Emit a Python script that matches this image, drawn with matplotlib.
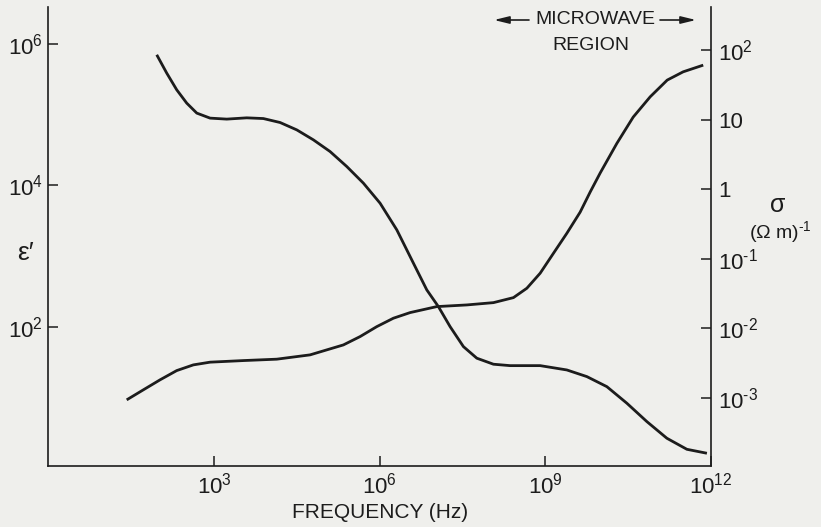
import matplotlib
matplotlib.use("Agg")
import matplotlib.pyplot as plt
import numpy as np

# ---- data (log10 values) ----
eps_logf = [1.962, 2.143, 2.324, 2.505, 2.687, 2.928, 3.230, 3.592, 3.893, 4.196,
            4.498, 4.799, 5.101, 5.404, 5.705, 6.007, 6.310, 6.611, 6.853, 7.063,
            7.275, 7.516, 7.759, 8.060, 8.362, 8.906, 9.389, 9.752, 10.114, 10.476,
            10.839, 11.201, 11.563, 11.926]
eps_logv = [5.845, 5.586, 5.350, 5.162, 5.021, 4.950, 4.936, 4.954, 4.944, 4.888,
            4.784, 4.643, 4.478, 4.266, 4.031, 3.748, 3.371, 2.900, 2.523, 2.287,
            2.004, 1.722, 1.558, 1.473, 1.453, 1.453, 1.392, 1.298, 1.156, 0.922,
            0.662, 0.427, 0.271, 0.215]

sig_logf = [1.418, 1.719, 2.022, 2.324, 2.625, 2.928, 3.531, 4.136, 4.739, 5.342,
            5.645, 5.947, 6.248, 6.551, 7.034, 7.578, 8.060, 8.422, 8.665, 8.906,
            9.147, 9.389, 9.630, 9.812, 9.993, 10.295, 10.591, 10.899, 11.207,
            11.496, 11.859]
sig_logv = [-3.029, -2.885, -2.741, -2.608, -2.526, -2.487, -2.464, -2.444, -2.382,
            -2.239, -2.119, -1.976, -1.855, -1.774, -1.688, -1.664, -1.631, -1.559,
            -1.424, -1.208, -0.921, -0.634, -0.330, -0.040, 0.233, 0.659, 1.037,
            1.329, 1.569, 1.688, 1.784]

x_ticks = [1e3, 1e6, 1e9, 1e12]
x_ticklabels = [r"$10^{3}$", r"$10^{6}$", r"$10^{9}$", r"$10^{12}$"]
eps_ticks = [1e2, 1e4, 1e6]
eps_ticklabels = [r"$10^{2}$", r"$10^{4}$", r"$10^{6}$"]
sig_ticks = [1e-3, 1e-2, 1e-1, 1, 10, 1e2]
sig_ticklabels = [r"$10^{\text{-}3}$", r"$10^{\text{-}2}$", r"$10^{\text{-}1}$",
                  "1", "10", r"$10^{2}$"]

plt.rcParams["font.family"] = ["Liberation Sans", "DejaVu Sans"]
plt.rcParams["mathtext.fontset"] = "custom"
plt.rcParams["mathtext.rm"] = "Liberation Sans"
plt.rcParams["mathtext.it"] = "Liberation Sans"
plt.rcParams["mathtext.default"] = "rm"

INK = "#1c1c1c"
PAPER = "#efefec"
W, H = 821, 527

fig = plt.figure(figsize=(W / 100, H / 100), dpi=100, facecolor=PAPER)
ax = fig.add_axes([48.4 / W, 1 - 466 / H, (711 - 48.4) / W, (466 - 7) / H])
ax.set_facecolor(PAPER)
ax2 = ax.twinx()

ax.plot(10 ** np.array(eps_logf), 10 ** np.array(eps_logv), color=INK, lw=2.0,
        solid_capstyle="butt", solid_joinstyle="round")
ax2.plot(10 ** np.array(sig_logf), 10 ** np.array(sig_logv), color=INK, lw=2.0,
         solid_capstyle="butt", solid_joinstyle="round")

ax.set_xscale("log")
ax.set_yscale("log")
ax2.set_yscale("log")
ax.set_xlim(1, 1e12)
ax.set_ylim(10 ** 0.035, 10 ** 6.52)
ax2.set_ylim(10 ** -3.98, 10 ** 2.62)

ax.set_xticks(x_ticks)
ax.set_xticklabels(x_ticklabels)
ax.set_yticks(eps_ticks)
ax.set_yticklabels(eps_ticklabels)
ax2.set_yticks(sig_ticks)
ax2.set_yticklabels(sig_ticklabels)
ax.xaxis.set_minor_locator(matplotlib.ticker.NullLocator())
ax.yaxis.set_minor_locator(matplotlib.ticker.NullLocator())
ax2.yaxis.set_minor_locator(matplotlib.ticker.NullLocator())

for a in (ax, ax2):
    a.spines["top"].set_visible(False)
    for s in ("left", "right", "bottom"):
        a.spines[s].set_color(INK)
        a.spines[s].set_linewidth(1.2)
ax.spines["right"].set_visible(False)
ax2.spines["left"].set_visible(False)
ax2.spines["bottom"].set_visible(False)

ax.tick_params(axis="both", direction="in", length=7, width=1.1, color=INK,
               labelcolor=INK, labelsize=16)
ax.tick_params(axis="x", pad=5)
ax.tick_params(axis="y", pad=4)
ax2.tick_params(axis="y", direction="in", length=7, width=1.1, color=INK,
                labelcolor=INK, labelsize=16, pad=5)

ax.set_xlabel("FREQUENCY (Hz)", fontsize=15, color=INK, labelpad=3)

fig.text(25 / W, 1 - 253 / H, "ε′", fontsize=19, color=INK, ha="center", va="center")
fig.text(778 / W, 1 - 205 / H, "σ", fontsize=18, color=INK, ha="center", va="center")
fig.text(749 / W, 1 - 232 / H, r"(Ω m)$^{\text{-}1}$", fontsize=14, color=INK,
         ha="left", va="center")

fig.text(595 / W, 1 - 20 / H, "MICROWAVE", fontsize=14, color=INK,
         ha="center", va="center")
fig.text(591 / W, 1 - 45 / H, "REGION", fontsize=14, color=INK,
         ha="center", va="center")
arrow_kw = dict(arrowstyle="-|>,head_length=0.9,head_width=0.22", color=INK, lw=1.2,
                shrinkA=0, shrinkB=0)
ax.annotate("", xy=(494 / W, 1 - 20 / H), xytext=(529 / W, 1 - 20 / H),
            xycoords="figure fraction", textcoords="figure fraction",
            arrowprops=arrow_kw, annotation_clip=False)
ax.annotate("", xy=(696 / W, 1 - 20 / H), xytext=(660 / W, 1 - 20 / H),
            xycoords="figure fraction", textcoords="figure fraction",
            arrowprops=arrow_kw, annotation_clip=False)

fig.savefig("out.png", dpi=100, facecolor=PAPER)
